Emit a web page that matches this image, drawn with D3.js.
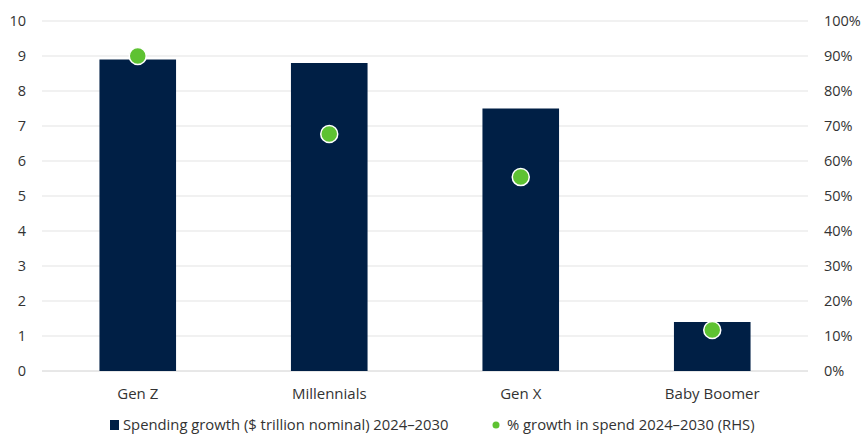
<!DOCTYPE html>
<html>
<head>
<meta charset="utf-8">
<script src="https://cdn.jsdelivr.net/npm/d3@7"></script>
<style>
  body { margin: 0; background: #fff; font-family: "Open Sans", sans-serif; }
</style>
</head>
<body>
<div class="a"></div>
<script>
// 数据
const categories = ["Gen Z", "Millennials", "Gen X", "Baby Boomer"];
const spending = [8.9, 8.8, 7.5, 1.4];
const growthPct = [90, 67.7, 55.4, 11.7];
const leftTicks = [0, 1, 2, 3, 4, 5, 6, 7, 8, 9, 10];
const rightTicks = [0, 10, 20, 30, 40, 50, 60, 70, 80, 90, 100];

const W = 862, H = 434;
const margin = { top: 21, right: 54, bottom: 63, left: 42 };
const width = W - margin.left - margin.right;
const height = H - margin.top - margin.bottom;

const svg = d3.select(".a").append("svg")
    .attr("width", W).attr("height", H)
    .append("g")
    .attr("transform", `translate(${margin.left},${margin.top})`);

const x = d3.scaleBand().domain(categories).range([0, width])
    .paddingInner(0.6).paddingOuter(0.3);
const y = d3.scaleLinear().domain([0, 10]).range([height, 0]);
const y2 = d3.scaleLinear().domain([0, 100]).range([height, 0]);

// 网格线
svg.append("g")
    .selectAll("line").data(leftTicks).join("line")
    .attr("x1", 0).attr("x2", width)
    .attr("y1", d => y(d)).attr("y2", d => y(d))
    .attr("stroke", d => d === 0 ? "#d0d0d0" : "#e3e3e3");

// 左轴
const axL = svg.append("g")
    .call(d3.axisLeft(y).tickValues(leftTicks).tickSize(0).tickPadding(16));
axL.select(".domain").remove();
axL.selectAll("text").style("font-size", "14.5px").style("fill", "#333")
    .style("font-family", "Open Sans");

// 右轴
const axR = svg.append("g").attr("transform", `translate(${width},0)`)
    .call(d3.axisRight(y2).tickValues(rightTicks).tickSize(0).tickPadding(16)
        .tickFormat(d => d + "%"));
axR.select(".domain").remove();
axR.selectAll("text").style("font-size", "14.5px").style("fill", "#333")
    .style("font-family", "Open Sans");

// 类别轴
const axB = svg.append("g").attr("transform", `translate(0,${height})`)
    .call(d3.axisBottom(x).tickSize(0).tickPadding(17));
axB.select(".domain").remove();
axB.selectAll("text").style("font-size", "15px").style("fill", "#333")
    .style("font-family", "Open Sans");

// 柱子
svg.selectAll(".bar").data(categories).join("rect")
    .attr("class", "bar")
    .attr("x", d => x(d))
    .attr("y", (d, i) => y(spending[i]))
    .attr("width", x.bandwidth())
    .attr("height", (d, i) => y(0) - y(spending[i]))
    .attr("fill", "#001f45");

// 点
svg.selectAll(".dot").data(categories).join("circle")
    .attr("class", "dot")
    .attr("cx", d => x(d) + x.bandwidth() / 2)
    .attr("cy", (d, i) => y2(growthPct[i]))
    .attr("r", 8.5)
    .attr("fill", "#5ec232")
    .attr("stroke", "#fff")
    .attr("stroke-width", 1.5);

// 图例
const lg = d3.select("svg").append("g").attr("transform", `translate(0,430)`);
lg.append("rect").attr("x", 110).attr("y", -10).attr("width", 9).attr("height", 10).attr("fill", "#001f45");
lg.append("text").attr("x", 123).attr("y", 0)
    .style("font-size", "14.8px").style("fill", "#333")
    .text("Spending growth ($ trillion nominal) 2024–2030");
lg.append("circle").attr("cx", 496).attr("cy", -5).attr("r", 3.5).attr("fill", "#5ec232");
lg.append("text").attr("x", 507).attr("y", 0)
    .style("font-size", "14.8px").style("fill", "#333")
    .text("% growth in spend 2024–2030 (RHS)");
</script>
</body>
</html>
